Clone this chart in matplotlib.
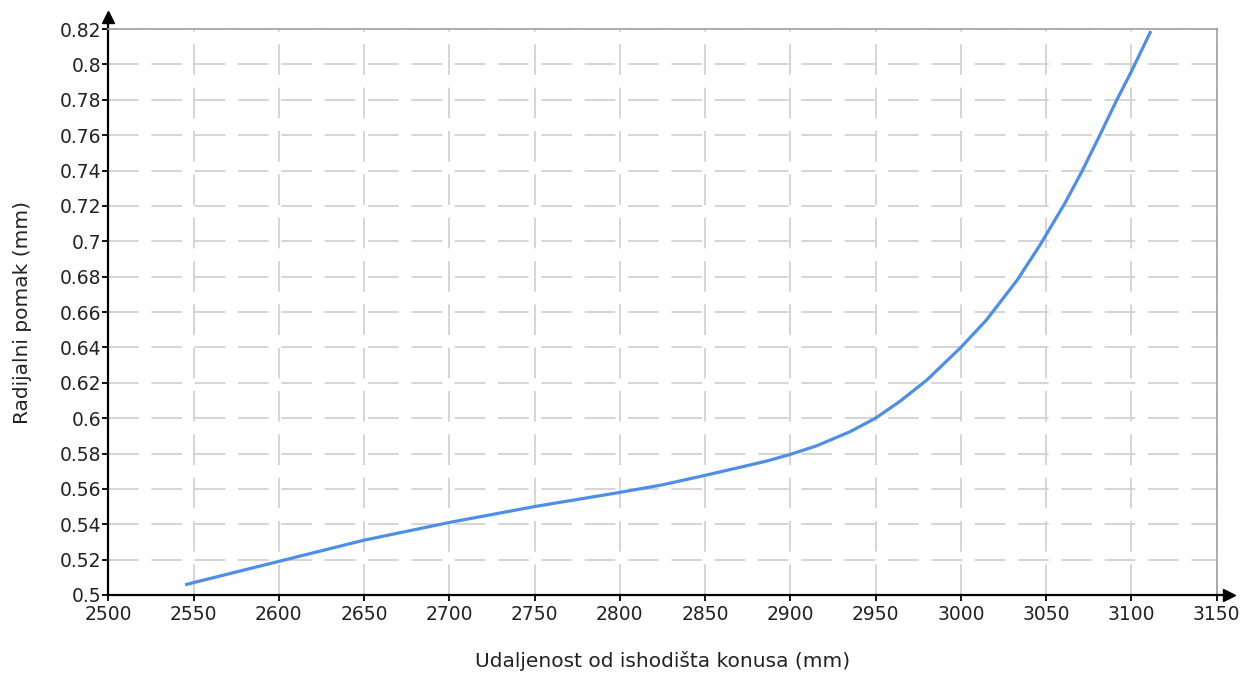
import numpy as np
import matplotlib.pyplot as plt

# values
udaljenost = [2546, 2550, 2600, 2650, 2700, 2750, 2800, 2825, 2847, 2866, 2886,
              2900, 2915, 2935, 2950, 2964, 2980, 3000, 3015, 3033, 3046.5, 3061,
              3071, 3081.5, 3091.5, 3100, 3111]
pomak = [0.506, 0.507, 0.519, 0.531, 0.541, 0.550, 0.558, 0.5623, 0.567, 0.5712,
         0.5757, 0.5795, 0.5842, 0.5923, 0.600, 0.6093, 0.6215, 0.640, 0.6555,
         0.678, 0.698, 0.7215, 0.7395, 0.760, 0.780, 0.796, 0.818]

x_ticks = np.arange(2500, 3151, 50)
y_ticks = [0.5, 0.52, 0.54, 0.56, 0.58, 0.6, 0.62, 0.64, 0.66, 0.68, 0.7,
           0.72, 0.74, 0.76, 0.78, 0.8, 0.82]
y_labels = ['0.5', '0.52', '0.54', '0.56', '0.58', '0.6', '0.62', '0.64', '0.66',
            '0.68', '0.7', '0.72', '0.74', '0.76', '0.78', '0.8', '0.82']

txt = '#222222'
fig = plt.figure(figsize=(12.53, 6.73), dpi=100)
ax = fig.add_axes([0.0864, 0.1159, 0.8846, 0.841])

ax.plot(udaljenost, pomak, color='#4f8ee6', lw=2.3, solid_joinstyle='round', zorder=3)

ax.set_xlim(2500, 3150)
ax.set_ylim(0.5, 0.82)
ax.set_xticks(x_ticks)
ax.set_yticks(y_ticks)
ax.set_yticklabels(y_labels)
ax.tick_params(axis='both', direction='out', length=4, width=1.3, color='black',
               labelsize=13.5, labelcolor=txt, pad=1)
ax.tick_params(axis='x', pad=3)

ax.grid(True, color='#d2d2d2', lw=1.3, linestyle=(0, (17, 7)))
ax.set_axisbelow(True)

for s in ['top', 'right']:
    ax.spines[s].set_color('#a0a0a0')
    ax.spines[s].set_linewidth(1.2)
for s in ['left', 'bottom']:
    ax.spines[s].set_color('black')
    ax.spines[s].set_linewidth(1.6)

# axis arrows
ax.plot([0, 0], [1, 1.02], color='black', lw=1.6, transform=ax.transAxes, clip_on=False)
ax.plot([0], [1.022], marker='^', color='black', markersize=9, transform=ax.transAxes,
        clip_on=False)
ax.plot([1, 1.008], [0, 0], color='black', lw=1.6, transform=ax.transAxes, clip_on=False)
ax.plot([1.011], [0], marker='>', color='black', markersize=9, transform=ax.transAxes,
        clip_on=False)

ax.set_xlabel('Udaljenost od ishodišta konusa (mm)', fontsize=14.5, color=txt, labelpad=20)
ax.set_ylabel('Radijalni pomak (mm)', fontsize=14.5, color=txt, labelpad=20)

fig.savefig('out.png', dpi=100)
